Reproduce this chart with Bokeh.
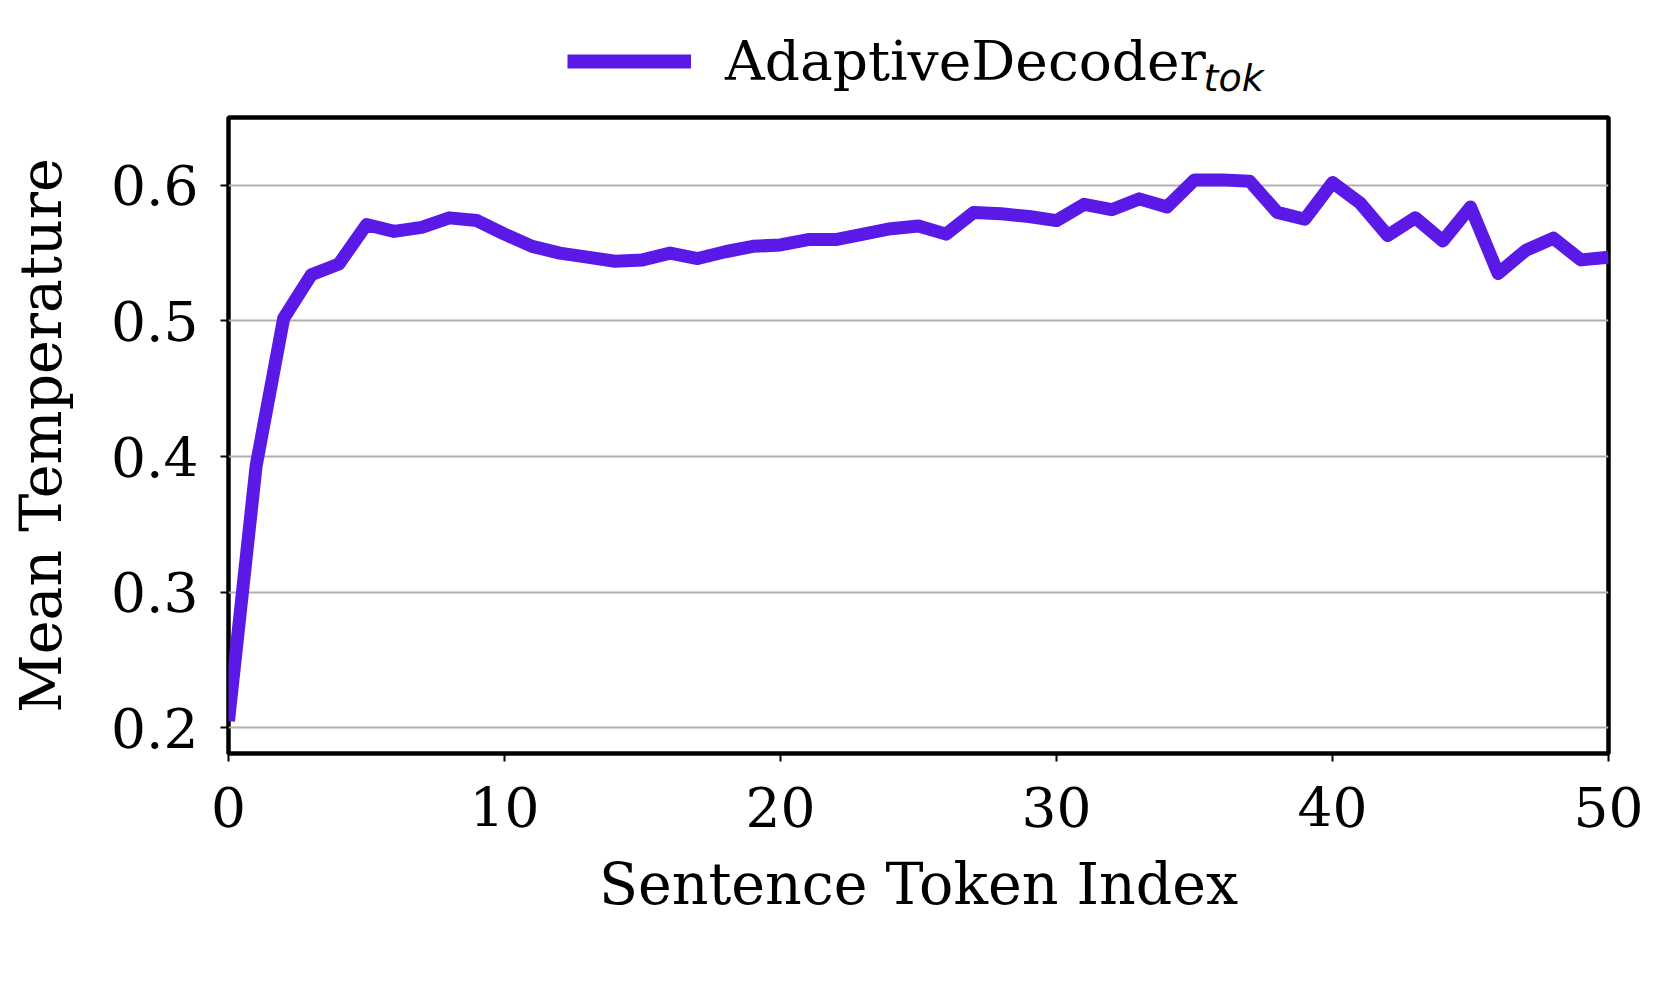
from bokeh.plotting import figure
from bokeh.models import Range1d, Legend, LegendItem, FixedTicker, Label
from bokeh.layouts import column
from bokeh.embed import file_html
from bokeh.resources import INLINE

token_index = list(range(51))
mean_temperature = [
    0.205, 0.393, 0.502, 0.534, 0.542, 0.571, 0.566, 0.569, 0.576, 0.574,
    0.564, 0.555, 0.550, 0.547, 0.544, 0.545, 0.550, 0.546, 0.551, 0.555,
    0.556, 0.560, 0.560, 0.564, 0.568, 0.570, 0.564, 0.580, 0.579, 0.577,
    0.574, 0.586, 0.582, 0.590, 0.584, 0.604, 0.604, 0.603, 0.580, 0.575,
    0.602, 0.587, 0.563, 0.576, 0.559, 0.584, 0.535, 0.552, 0.561, 0.545,
    0.547,
]
series_name = "AdaptiveDecoder"
series_sub = "tok"
x_ticks = [0, 10, 20, 30, 40, 50]
y_ticks = [0.2, 0.3, 0.4, 0.5, 0.6]
x_label = "Sentence Token Index"
y_label = "Mean Temperature"

COLOR = "#5a19e6"
FONT = "DejaVu Serif"
TOTAL_W = 1653
LEG_H = 113
FRAME_LEFT = 228

# ---- legend strip above the chart
pl = figure(
    output_backend="svg", toolbar_location=None,
    width=TOTAL_W, height=LEG_H,
    min_border=0, min_border_left=0, min_border_right=0,
    min_border_top=0, min_border_bottom=0,
    x_axis_type=None, y_axis_type=None,
    x_range=Range1d(0, 1), y_range=Range1d(0, 1),
    background_fill_color="white", border_fill_color="white",
)
pl.outline_line_color = None
pl.xgrid.grid_line_color = None
pl.ygrid.grid_line_color = None
# swatch source for the legend entry (kept outside the visible range)
rl = pl.line(x=[0, 1], y=[-5, -5], line_color=COLOR, line_width=14)

legend = Legend(
    items=[LegendItem(label=series_name, renderers=[rl])],
    location=(567 - FRAME_LEFT, LEG_H - 93),
    padding=0, margin=0, spacing=0,
    border_line_color=None, background_fill_alpha=0,
    glyph_width=124, glyph_height=64, label_height=64,
    label_standoff=34,
    label_text_font=FONT, label_text_font_size="55px", label_text_color="black",
)
pl.add_layout(legend)

sub = Label(
    x=1203 - FRAME_LEFT, y=LEG_H - 77, x_units="screen", y_units="screen",
    text=series_sub, text_font="DejaVu Sans", text_font_style="italic",
    text_font_size="38px", text_color="black", text_baseline="alphabetic",
)
pl.add_layout(sub)

# ---- main chart
p = figure(
    output_backend="svg", toolbar_location=None,
    frame_width=1380, frame_height=636,
    min_border_left=FRAME_LEFT, min_border_top=117 - LEG_H, min_border_right=45, min_border_bottom=236,
    x_range=Range1d(0, 50), y_range=Range1d(0.181, 0.650),
    background_fill_color="white", border_fill_color="white",
)

r = p.line(token_index, mean_temperature, line_color=COLOR, line_width=13, line_join="round")

p.outline_line_color = "black"
p.outline_line_width = 4.5
p.xgrid.grid_line_color = None
p.ygrid.grid_line_color = "#b0b0b0"
p.ygrid.grid_line_width = 2

p.xaxis.ticker = FixedTicker(ticks=x_ticks)
p.yaxis.ticker = FixedTicker(ticks=y_ticks)
for ax in (p.xaxis, p.yaxis):
    ax.axis_line_color = None
    ax.major_tick_line_color = "black"
    ax.major_tick_line_width = 2
    ax.major_tick_out = 8
    ax.major_tick_in = 0
    ax.minor_tick_line_color = None
    ax.major_label_text_font = FONT
    ax.major_label_text_font_size = "55px"
    ax.major_label_text_color = "black"
    ax.axis_label_text_font = FONT
    ax.axis_label_text_font_size = "57px"
    ax.axis_label_text_font_style = "normal"
    ax.axis_label_text_color = "black"

p.xaxis.axis_label = x_label
p.yaxis.axis_label = y_label
p.xaxis.major_label_standoff = 25
p.yaxis.major_label_standoff = 22
p.xaxis.axis_label_standoff = 21
p.yaxis.axis_label_standoff = 34

layout = column(pl, p, spacing=0)

open("out.html", "w").write(file_html(layout, INLINE))
